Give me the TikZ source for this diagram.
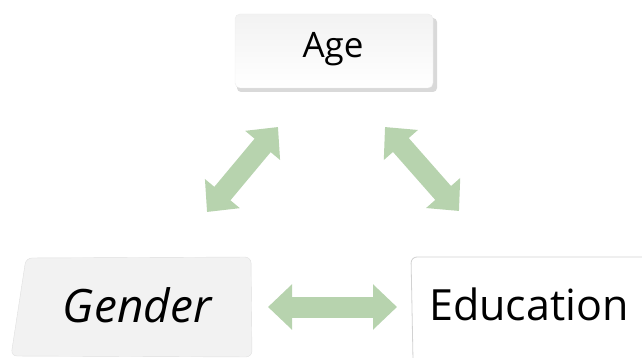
\documentclass[tikz,border=0pt]{standalone}
\usepackage{fontspec}
\setmainfont{Open Sans}
\usetikzlibrary{arrows.meta,shadows}
\definecolor{arrowgreen}{RGB}{183,211,174}
\definecolor{boxgray}{RGB}{242,242,242}
\tikzset{
  dblarrow/.style={line width=21pt, draw=arrowgreen,
    {Triangle[length=24pt,width=44pt]}-{Triangle[length=24pt,width=44pt]}},
  boxline/.style={draw=gray!35, line width=0.8pt},
  label/.style={text=black, inner sep=0pt, anchor=center}
}
\begin{document}
\begin{tikzpicture}[x=1pt,y=-1pt]
\useasboundingbox (0,0) rectangle (642,358);
% Age box
\fill[gray!30, rounded corners=4pt] (237,18) rectangle (437,92);
\shade[top color=boxgray, bottom color=white, rounded corners=5pt, draw=gray!15] (235,14) rectangle (433,88);
\node[label, font=\fontsize{35}{40}\selectfont] (age) at (333,49) {Age};
% Gender box
\filldraw[fill=boxgray, draw=gray!25, rounded corners=6pt] (26,258) -- (251,257) -- (252,357) -- (11,356) -- cycle;
\node[label, font=\fontsize{46}{52}\selectfont\itshape] (gender) at (137,305) {Gender};
% Education box
\fill[white] (412,257) rectangle (642,358);
\draw[boxline, rounded corners=6pt] (642,257) -- (411,257) -- (413,360);
\node[label, font=\fontsize{43}{50}\selectfont] (edu) at (529,304) {Education};
% arrows
\coordinate (l1) at (207,212);
\coordinate (l2) at (278,127);
\coordinate (r1) at (385,127);
\coordinate (r2) at (459,211);
\coordinate (b1) at (268,307);
\coordinate (b2) at (397,307);
\draw[dblarrow] (l1) -- (l2);
\draw[dblarrow] (r1) -- (r2);
\draw[dblarrow] (b1) -- (b2);
\end{tikzpicture}
\end{document}
